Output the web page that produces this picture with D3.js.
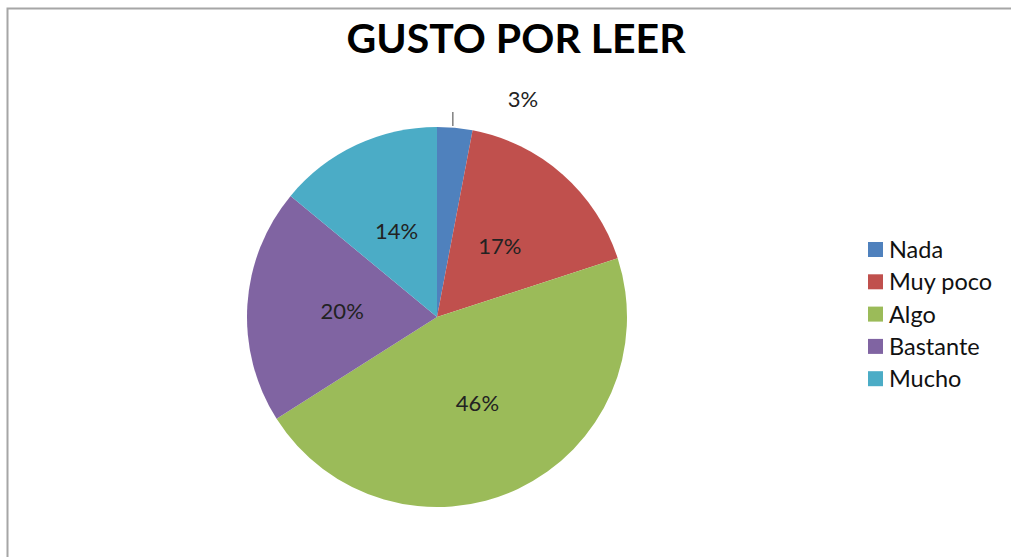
<!DOCTYPE html>
<html>
<head>
<meta charset="utf-8">
<script src="https://cdn.jsdelivr.net/npm/d3@7"></script>
<style>
  body { margin: 0; background: #fff; }
  svg text { font-family: Lato, "Open Sans", sans-serif; }
</style>
</head>
<body>
<div class="chart"></div>
<script>
const categories = ['Nada', 'Muy poco', 'Algo', 'Bastante', 'Mucho'];
const values = [3, 17, 46, 20, 14];
const colors = ['#4F81BD', '#C0504D', '#9BBB59', '#8064A2', '#4BACC6'];
const title = 'GUSTO POR LEER';

const width = 1011;
const height = 557;
const cx = 437, cy = 317, radius = 190;

const svg = d3.select('.chart')
    .append('svg')
    .attr('width', width)
    .attr('height', height);

// chart frame (left + top edges visible)
svg.append('path')
    .attr('d', `M7.5,${height} L7.5,8.5 L${width},8.5`)
    .attr('fill', 'none')
    .attr('stroke', '#a6a6a6')
    .attr('stroke-width', 2);

svg.append('text')
    .attr('x', 516)
    .attr('y', 53)
    .attr('text-anchor', 'middle')
    .attr('font-size', 41)
    .attr('font-weight', 'bold')
    .attr('fill', '#000')
    .text(title);

const data = categories.map((c, i) => ({ name: c, value: values[i], color: colors[i] }));
const total = d3.sum(values);

const pie = d3.pie().value(d => d.value).sort(null);
const arc = d3.arc().innerRadius(0).outerRadius(radius);
const labelArc = d3.arc().innerRadius(radius * 0.5).outerRadius(radius * 0.5);

const g = svg.append('g').attr('transform', `translate(${cx},${cy})`);
const arcs = pie(data);

g.selectAll('path.slice')
    .data(arcs)
    .enter()
    .append('path')
    .attr('class', 'slice')
    .attr('d', arc)
    .attr('fill', d => d.data.color);

// labels: small slices go outside with a leader
arcs.forEach(d => {
    const pct = Math.round(d.data.value / total * 100) + '%';
    if (d.data.value / total < 0.05) {
        const mid = (d.startAngle + d.endAngle) / 2;
        const x0 = Math.sin(mid) * radius;
        g.append('line')
            .attr('x1', x0 - 2).attr('x2', x0 - 2)
            .attr('y1', -radius - 1).attr('y2', -radius - 15)
            .attr('stroke', '#404040')
            .attr('stroke-width', 1);
        g.append('text')
            .attr('x', x0 + 68)
            .attr('y', -radius - 20)
            .attr('text-anchor', 'middle')
            .attr('font-size', 22)
            .attr('fill', '#222')
            .text(pct);
    } else {
        const [lx, ly] = labelArc.centroid(d);
        g.append('text')
            .attr('x', lx)
            .attr('y', ly + 8)
            .attr('text-anchor', 'middle')
            .attr('font-size', 22)
            .attr('fill', '#222')
            .text(pct);
    }
});

// legend
const legend = svg.append('g').attr('transform', 'translate(868,242)');
const rowH = 32.3;
legend.selectAll('rect')
    .data(data)
    .enter()
    .append('rect')
    .attr('x', 0)
    .attr('y', (d, i) => i * rowH)
    .attr('width', 15)
    .attr('height', 15)
    .attr('fill', d => d.color);
legend.selectAll('text')
    .data(data)
    .enter()
    .append('text')
    .attr('x', 21)
    .attr('y', (d, i) => i * rowH + 16)
    .attr('font-size', 23.5)
    .attr('fill', '#111')
    .text(d => d.name);
</script>
</body>
</html>
